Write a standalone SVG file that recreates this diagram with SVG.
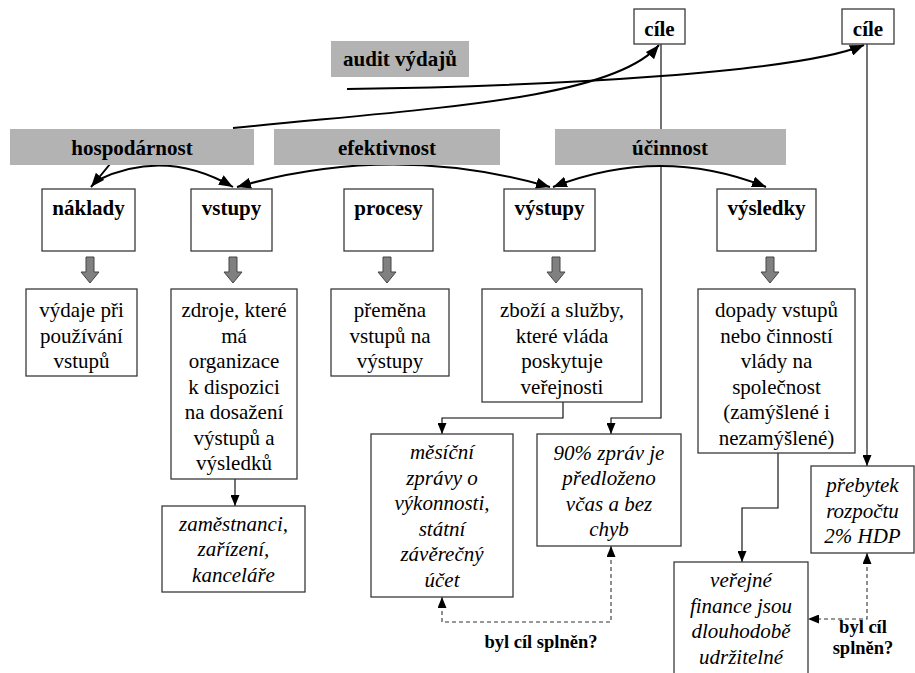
<svg xmlns="http://www.w3.org/2000/svg" xmlns:xlink="http://www.w3.org/1999/xlink" width="915" height="673" viewBox="0 0 915 673">
<style>
text{font-family:"Liberation Serif","DejaVu Serif",serif;font-size:21px;fill:#000;text-anchor:middle}
.b{font-weight:bold}
.i{font-style:italic}
.sm{font-size:18.5px;font-weight:bold}
.box{fill:#fff;stroke:#3a3a3a;stroke-width:1.3}
.gray{fill:#b3b3b3;stroke:none}
.thick{fill:none;stroke:#000;stroke-width:2}
.thin{fill:none;stroke:#000;stroke-width:1.1}
.dash{fill:none;stroke:#333;stroke-width:1.1;stroke-dasharray:4,3}
.garr{fill:#808080;stroke:#454545;stroke-width:1}
</style>
<defs>
<marker id="big" markerWidth="14" markerHeight="11" refX="14" refY="5.5" orient="auto-start-reverse" markerUnits="userSpaceOnUse"><path d="M0,0 L14,5.5 L0,11 Z" fill="#000"/></marker>
<marker id="sml" markerWidth="11" markerHeight="9" refX="11" refY="4.5" orient="auto-start-reverse" markerUnits="userSpaceOnUse"><path d="M0,0 L11,4.5 L0,9 Z" fill="#000"/></marker>
<polygon id="ga" class="garr" points="-4,0 4,0 4,15 9,15 0,26 -9,15 -4,15"/>
</defs>

<g id="connectors">
<path class="thick" d="M233,128 C430,108 612,100 659,45" marker-end="url(#big)"/>
<path class="thick" d="M347,89 C560,86 800,72 864,45" marker-end="url(#big)"/>
<path class="thick" d="M110,164 Q102,174 91,187" marker-end="url(#big)"/>
<path class="thick" d="M98,180 Q165,148 233,187" marker-end="url(#big)"/>
<path class="thick" d="M237,187 Q393,142 550,187" marker-start="url(#big)" marker-end="url(#big)"/>
<path class="thick" d="M553,187 Q661,145 766,187" marker-start="url(#big)" marker-end="url(#big)"/>
<path class="thin" d="M661,44 V418 H611 V434" marker-end="url(#sml)"/>
<path class="thin" d="M867,44 V466" marker-end="url(#sml)"/>
<path class="thin" d="M563,402 V418 H442 V434" marker-end="url(#sml)"/>
<path class="thin" d="M235,479 V506" marker-end="url(#sml)"/>
<path class="thin" d="M778,453 V508 H742 V562" marker-end="url(#sml)"/>
<path class="dash" d="M611,546 V622 H442 V597" marker-start="url(#sml)" marker-end="url(#sml)"/>
<path class="dash" d="M867,553 V619 H808" marker-start="url(#sml)" marker-end="url(#sml)"/>
<use xlink:href="#ga" x="90" y="257"/>
<use xlink:href="#ga" x="233" y="257"/>
<use xlink:href="#ga" x="387" y="257"/>
<use xlink:href="#ga" x="556" y="257"/>
<use xlink:href="#ga" x="770" y="257"/>
</g>

<g id="audit"><rect class="gray" x="331" y="41" width="138" height="36"/><text class="b" x="400" y="66">audit výdajů</text></g>
<g id="hospodarnost"><rect class="gray" x="10" y="129" width="244" height="36"/><text class="b" x="132" y="155">hospodárnost</text></g>
<g id="efektivnost"><rect class="gray" x="274" y="129" width="226" height="36"/><text class="b" x="387" y="155">efektivnost</text></g>
<g id="ucinnost"><rect class="gray" x="555" y="129" width="231" height="36"/><text class="b" x="670" y="155">účinnost</text></g>

<g id="cile1"><rect class="box" x="634" y="9" width="51" height="35"/><text class="b" x="659.5" y="36">cíle</text></g>
<g id="cile2"><rect class="box" x="842" y="9" width="52" height="35"/><text class="b" x="868" y="36">cíle</text></g>

<g id="naklady"><rect class="box" x="42" y="189" width="93" height="62"/><text class="b" x="88.5" y="215">náklady</text></g>
<g id="vstupy"><rect class="box" x="191" y="189" width="81" height="62"/><text class="b" x="231.5" y="215">vstupy</text></g>
<g id="procesy"><rect class="box" x="344" y="189" width="89" height="62"/><text class="b" x="388.5" y="215">procesy</text></g>
<g id="vystupy"><rect class="box" x="504" y="189" width="91" height="62"/><text class="b" x="549.5" y="215">výstupy</text></g>
<g id="vysledky"><rect class="box" x="717" y="189" width="99" height="62"/><text class="b" x="766.5" y="215">výsledky</text></g>

<g id="vydaje"><rect class="box" x="26" y="289" width="111" height="87"/>
<text x="81.5" y="317">výdaje při</text><text x="81.5" y="343">používání</text><text x="81.5" y="368">vstupů</text></g>
<g id="zdroje"><rect class="box" x="171" y="289" width="126" height="190"/>
<text x="234" y="317">zdroje, které</text><text x="234" y="343">má</text><text x="234" y="368">organizace</text><text x="234" y="394">k dispozici</text><text x="234" y="419">na dosažení</text><text x="234" y="445">výstupů a</text><text x="234" y="470">výsledků</text></g>
<g id="premena"><rect class="box" x="331" y="289" width="118" height="87"/>
<text x="390" y="317">přeměna</text><text x="390" y="343">vstupů na</text><text x="390" y="368">výstupy</text></g>
<g id="zbozi"><rect class="box" x="482" y="289" width="160" height="113"/>
<text x="562" y="317">zboží a služby,</text><text x="562" y="343">které vláda</text><text x="562" y="368">poskytuje</text><text x="562" y="394">veřejnosti</text></g>
<g id="dopady"><rect class="box" x="698" y="289" width="157" height="164"/>
<text x="776.5" y="317">dopady vstupů</text><text x="776.5" y="343">nebo činností</text><text x="776.5" y="368">vlády na</text><text x="776.5" y="394">společnost</text><text x="776.5" y="419">(zamýšlené i</text><text x="776.5" y="445">nezamýšlené)</text></g>

<g id="zamestnanci"><rect class="box" x="162" y="506" width="143" height="86"/>
<text class="i" x="233.5" y="531">zaměstnanci,</text><text class="i" x="233.5" y="556">zařízení,</text><text class="i" x="233.5" y="582">kanceláře</text></g>
<g id="mesicni"><rect class="box" x="371" y="434" width="142" height="163"/>
<text class="i" x="442" y="459">měsíční</text><text class="i" x="442" y="485">zprávy o</text><text class="i" x="442" y="510">výkonnosti,</text><text class="i" x="442" y="536">státní</text><text class="i" x="442" y="561">závěrečný</text><text class="i" x="442" y="587">účet</text></g>
<g id="zprav90"><rect class="box" x="537" y="434" width="144" height="112"/>
<text class="i" x="609" y="460">90% zpráv je</text><text class="i" x="609" y="485">předloženo</text><text class="i" x="609" y="511">včas a bez</text><text class="i" x="609" y="536">chyb</text></g>
<g id="prebytek"><rect class="box" x="811" y="466" width="103" height="87"/>
<text class="i" x="862.5" y="492">přebytek</text><text class="i" x="862.5" y="518">rozpočtu</text><text class="i" x="862.5" y="543">2% HDP</text></g>
<g id="verejne"><rect class="box" x="674" y="562" width="134" height="120"/>
<text class="i" x="741" y="587">veřejné</text><text class="i" x="741" y="613">finance jsou</text><text class="i" x="741" y="638">dlouhodobě</text><text class="i" x="741" y="664">udržitelné</text></g>

<g id="otazka1"><text class="sm" x="541" y="648">byl cíl splněn?</text></g>
<g id="otazka2"><text class="sm" x="863" y="633">byl cíl</text><text class="sm" x="863" y="654">splněn?</text></g>
</svg>
